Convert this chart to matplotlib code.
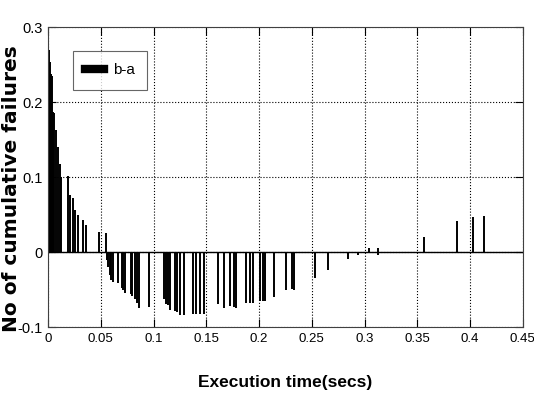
import matplotlib
matplotlib.use("Agg")
import matplotlib.pyplot as plt
from matplotlib.lines import Line2D

# execution time (secs) and cumulative failures difference (b-a)
times = [0.000, 0.001, 0.002, 0.003, 0.004, 0.005, 0.006, 0.0075, 0.009, 0.011,
         0.0125, 0.019, 0.021, 0.024, 0.026, 0.028, 0.033, 0.036, 0.048, 0.055,
         0.056, 0.057, 0.059, 0.060, 0.062, 0.066, 0.070, 0.071, 0.073, 0.079,
         0.080, 0.082, 0.084, 0.086, 0.096, 0.110, 0.112, 0.114, 0.116, 0.120,
         0.122, 0.125, 0.129, 0.137, 0.140, 0.144, 0.148, 0.161, 0.167, 0.172,
         0.176, 0.178, 0.1875, 0.191, 0.1945, 0.201, 0.2035, 0.2055, 0.2145, 0.2255,
         0.231, 0.233, 0.253, 0.265, 0.284, 0.2935, 0.3045, 0.3125, 0.3125, 0.356,
         0.388, 0.403, 0.413]
diff = [0.300, 0.270, 0.253, 0.237, 0.235, 0.187, 0.185, 0.163, 0.140, 0.117,
        0.100, 0.102, 0.076, 0.072, 0.056, 0.049, 0.043, 0.036, 0.027, 0.025,
        -0.011, -0.020, -0.031, -0.037, -0.040, -0.041, -0.048, -0.050, -0.054, -0.056,
        -0.058, -0.063, -0.068, -0.074, -0.073, -0.062, -0.069, -0.071, -0.077, -0.078,
        -0.080, -0.084, -0.084, -0.083, -0.083, -0.083, -0.083, -0.069, -0.074, -0.072,
        -0.073, -0.074, -0.068, -0.068, -0.068, -0.065, -0.065, -0.065, -0.060, -0.051,
        -0.049, -0.051, -0.034, -0.024, -0.009, -0.004, 0.006, 0.006, -0.004, 0.020,
        0.042, 0.047, 0.048]

xticks = [0, 0.05, 0.1, 0.15, 0.2, 0.25, 0.3, 0.35, 0.4, 0.45]
xtick_labels = ['0', '0.05', '0.1', '0.15', '0.2', '0.25', '0.3', '0.35', '0.4', '0.45']
yticks = [-0.1, 0, 0.1, 0.2, 0.3]
ytick_labels = ['-0.1', '0', '0.1', '0.2', '0.3']

tickfont = 'Liberation Sans'

fig = plt.figure(figsize=(5.34, 3.98), dpi=100)
ax = fig.add_axes([0.09, 0.178, 0.889, 0.754])

ax.vlines(times, 0, diff, colors='k', linewidth=1.4)
ax.axhline(0, color='k', linewidth=1.0)

ax.set_xlim(0, 0.45)
ax.set_ylim(-0.1, 0.3)
ax.set_xticks(xticks)
ax.set_xticklabels(xtick_labels, family=tickfont, fontsize=9.5)
ax.set_yticks(yticks)
ax.set_yticklabels(ytick_labels, family=tickfont, fontsize=10.5)
ax.tick_params(direction='in', length=6, width=0.8, top=True, right=True, pad=4)
ax.grid(True, linestyle=':', color='k', linewidth=0.8)
for s in ax.spines.values():
    s.set_color('#404040')

ax.set_xlabel('Execution time(secs)', family=tickfont, fontweight='bold', fontsize=12.5)
ax.xaxis.set_label_coords(0.5, -0.16)
ax.set_ylabel('No of cumulative failures', family='DejaVu Sans', fontweight='bold',
              fontsize=14.5)
ax.yaxis.set_label_coords(-0.058, 0.46)

handle = Line2D([0], [0], color='k', linewidth=6)
leg = ax.legend([handle], ['b-a'], loc='upper left', bbox_to_anchor=(0.053, 0.92),
                borderaxespad=0, frameon=True, fancybox=False, handlelength=1.2,
                handletextpad=0.6, borderpad=0.8,
                prop={'family': tickfont, 'size': 11})
leg.get_frame().set_edgecolor('#404040')
leg.get_frame().set_linewidth(0.8)

fig.savefig('out.png', dpi=100)
